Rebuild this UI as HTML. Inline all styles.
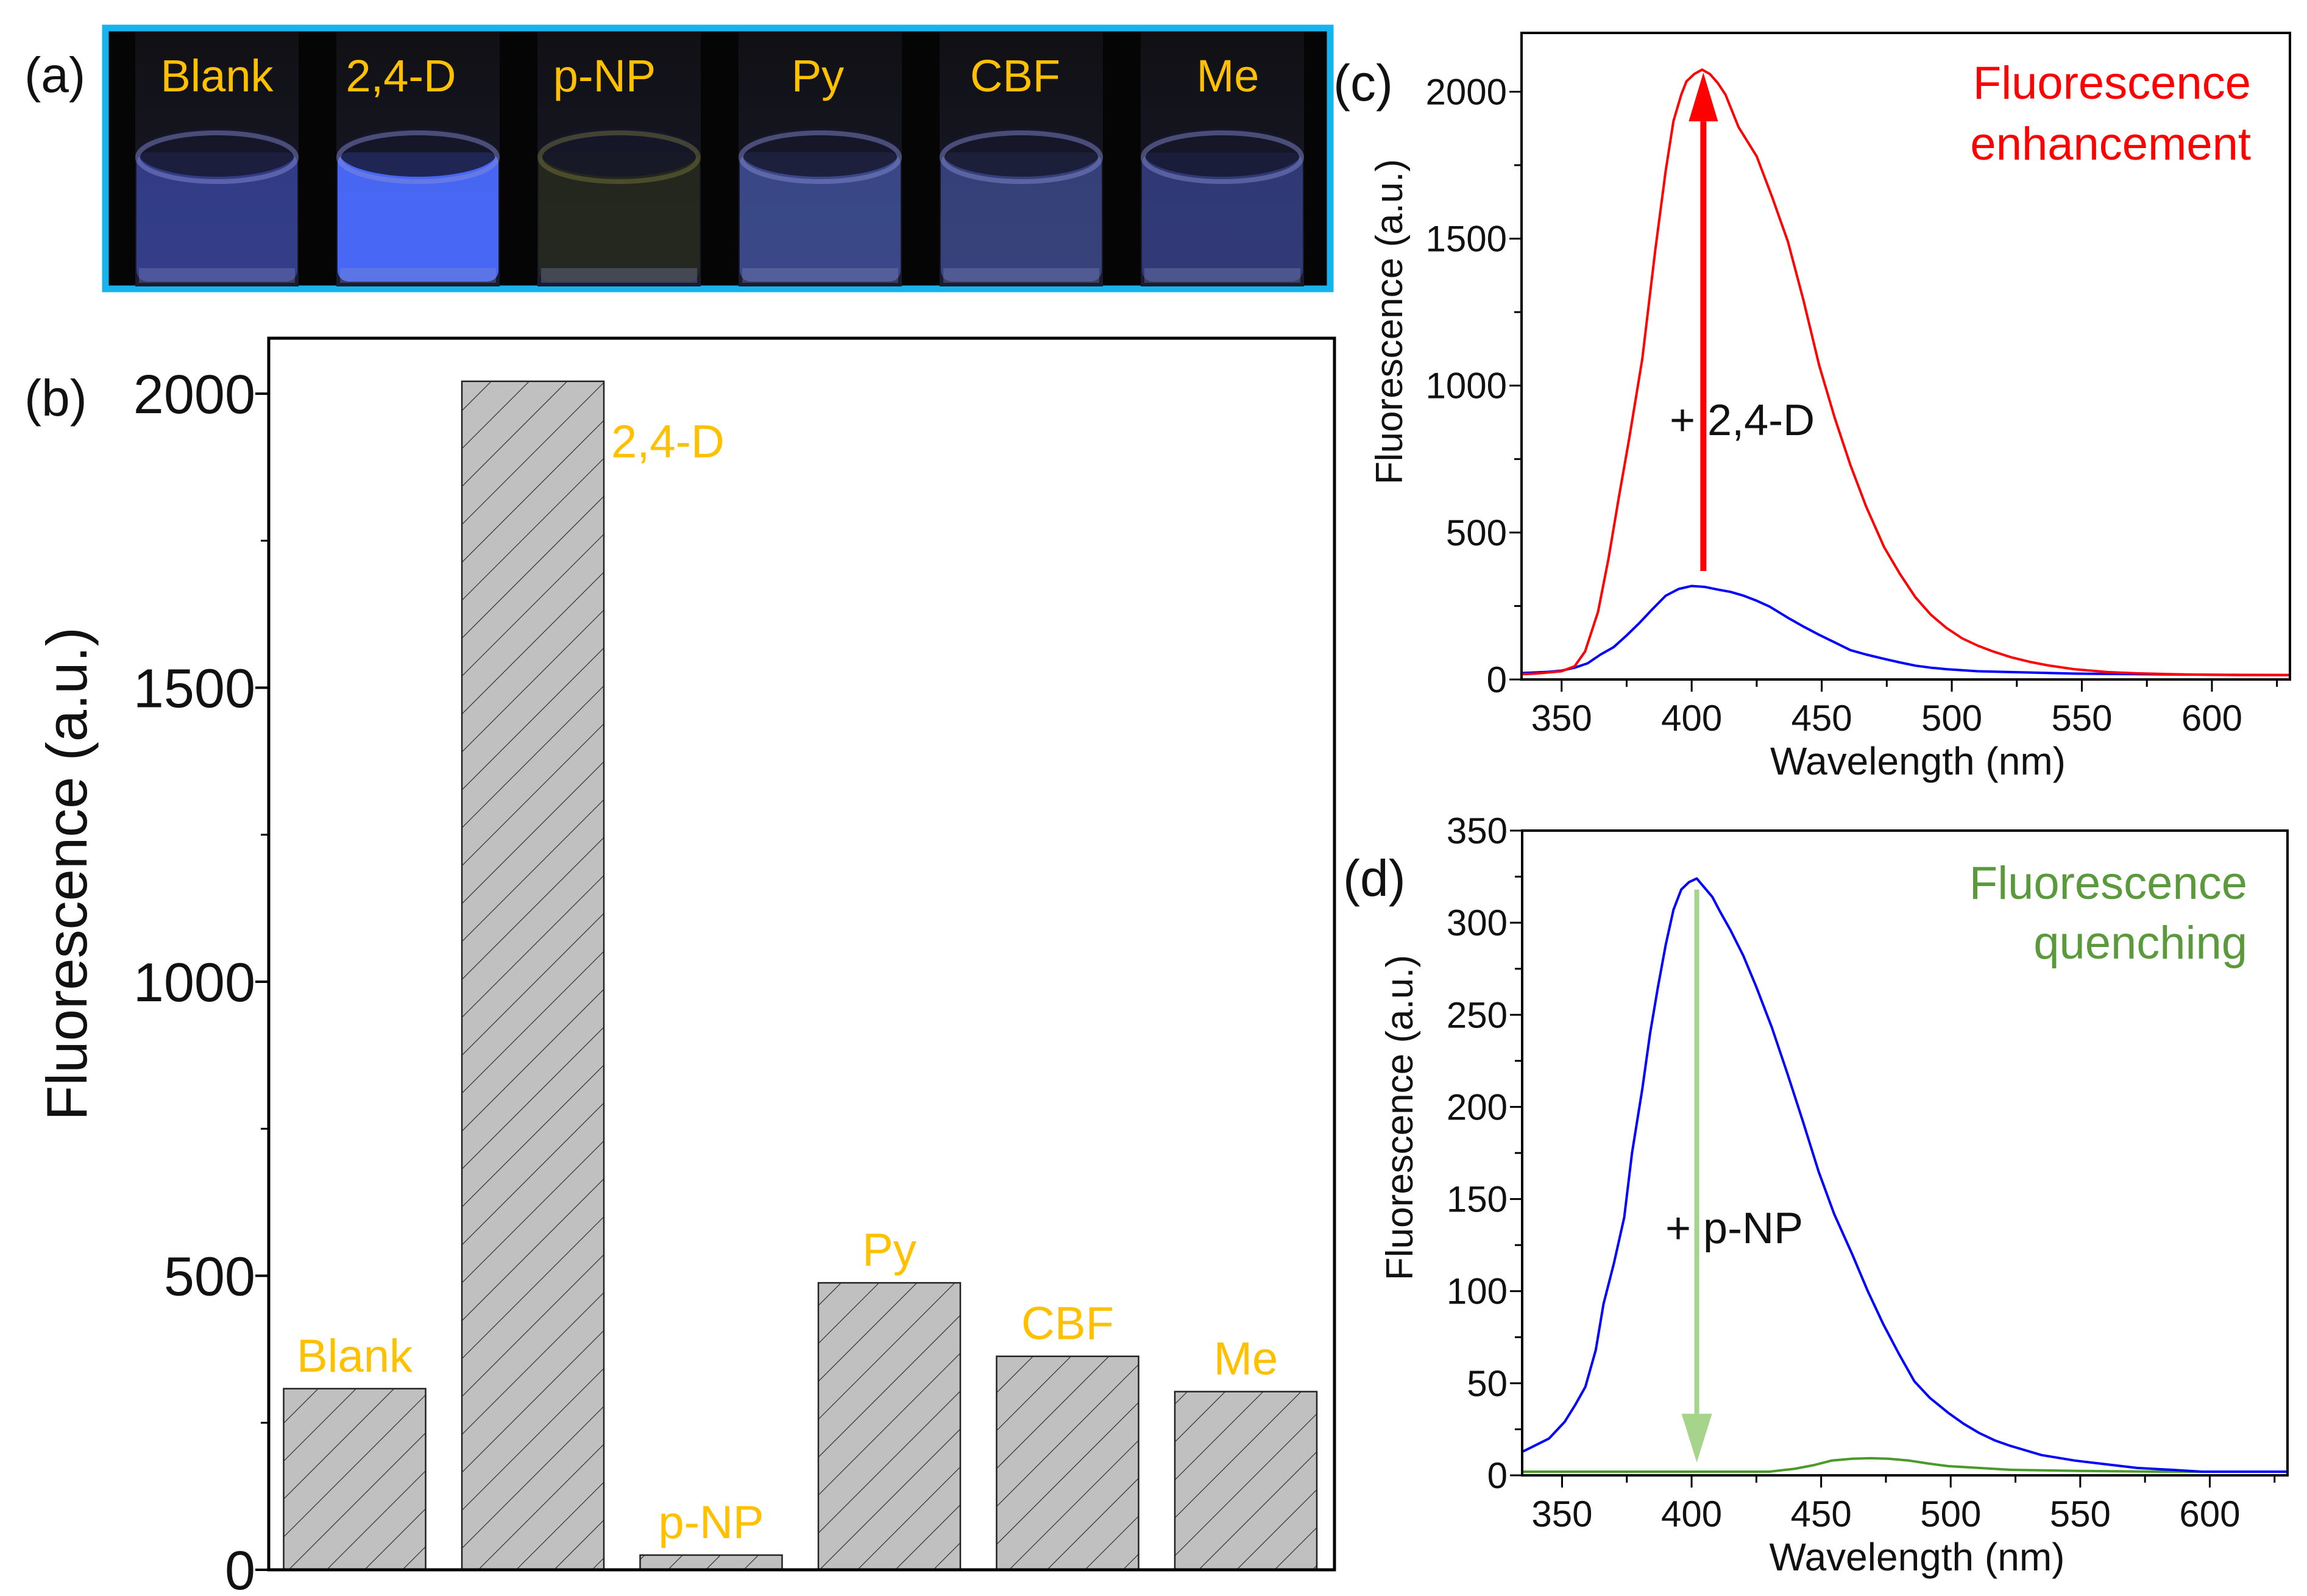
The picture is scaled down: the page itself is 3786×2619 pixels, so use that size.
<!DOCTYPE html>
<html><head><meta charset="utf-8">
<style>
html,body{margin:0;padding:0;background:#fff;}
svg{display:block;}
text{font-family:"Liberation Sans",Arial,sans-serif;}
</style></head>
<body>
<svg id="fig" width="3786" height="2619" viewBox="0 0 3786 2619" xmlns="http://www.w3.org/2000/svg">
<defs>
  <pattern id="hatch" patternUnits="userSpaceOnUse" width="44" height="44" patternTransform="rotate(45)">
    <rect width="44" height="44" fill="#c0c0c0"/>
    <line x1="0" y1="0" x2="0" y2="44" stroke="#222" stroke-width="2.2"/>
  </pattern>
  <linearGradient id="vialDark" x1="0" y1="0" x2="0" y2="1">
    <stop offset="0" stop-color="#101014"/><stop offset="1" stop-color="#1a1b2e"/>
  </linearGradient>
</defs>

<g id="panelA">
  <text x="40" y="151" font-size="82" fill="#111">(a)</text>
  <rect x="173" y="46" width="2010" height="428" fill="#050505" stroke="#17b3ec" stroke-width="11"/>
  <g id="vials"></g>
</g>

<g id="panelB"></g>
<g id="panelC"></g>
<g id="panelD"></g>
</svg>

<script>
// ---- Panel a vial data ----
const vialNames = ["Blank","2,4-D","p-NP","Py","CBF","Me"];
const vialColors = ["#3c4aa8","#4a6cff","#2a2d1c","#4658a8","#414f96","#3a4590"];

// ---- Panel b data ----
const barCats = ["Blank","2,4-D","p-NP","Py","CBF","Me"];
const barVals = [308, 2021, 25, 488, 363, 303];
const barYTicks = [0, 500, 1000, 1500, 2000];

// ---- Panel c data ----
const cRedX = [335,340,350,355,359,364,368,372,376,381,386,390,393,396,398,401,404,407,410,413,418,425,431,437,443,449,455,461,467,474,480,486,492,498,504,510,516,523,530,537,547,560,571,590,610,630];
const cRedY = [18,20,28,45,95,230,410,620,820,1090,1460,1730,1900,1990,2035,2060,2075,2060,2030,1990,1880,1780,1640,1490,1290,1070,890,730,590,450,360,280,220,175,140,115,95,75,60,48,35,25,21,17,15,15];
const cBlueX = [335,345,350,355,360,365,370,375,380,385,390,395,400,405,410,415,420,425,430,437,443,449,455,461,467,474,480,486,492,498,510,523,547,571,600,630];
const cBlueY = [22,26,30,40,55,85,110,150,193,240,285,308,318,315,306,298,285,268,248,210,180,152,126,100,85,70,58,47,40,35,28,25,20,18,16,15];
const cXTicks = [350,400,450,500,550,600];
const cYTicks = [0,500,1000,1500,2000];

// ---- Panel d data ----
const dBlueX = [335,345,351,355,359,363,366,370,374,377,381,384,387,390,393,396,399,402,405,408,411,415,420,425,431,437,443,449,455,462,468,474,480,486,492,499,505,511,517,523,535,548,560,572,585,597,610,630];
const dBlueY = [13,20,29,38,48,68,93,115,140,175,210,240,265,288,307,318,322,324,319,314,306,296,282,265,243,218,192,165,142,120,100,82,66,51,42,34,28,23,19,16,11,8,6,4,3,2,2,2];
const dGreenX = [335,360,400,430,440,447,454,462,469,476,484,491,499,511,523,550,580,630];
const dGreenY = [2,2,2,2,3.6,5.5,8,9,9.3,9,8,6.5,5,4,3,2.4,2,2];
const dXTicks = [350,400,450,500,550,600];
const dYTicks = [0,50,100,150,200,250,300,350];

const NS = "http://www.w3.org/2000/svg";
function mk(tag, attrs, parent){
  const e = document.createElementNS(NS, tag);
  for (const k in attrs) e.setAttribute(k, attrs[k]);
  parent.appendChild(e);
  return e;
}

// ===== Panel a =====
(function(){
  const g = document.getElementById('vials');
  const x0 = 222, step = 330, w = 268;
  vialNames.forEach((n,i)=>{
    const x = x0 + i*step;
    const v = mk('g', {}, g);
    
    
    mk('rect', {x:x, y:52, width:w, height:418, fill:'url(#vialDark)'}, v);
    const liq = mk('rect', {x:x+2, y:250, width:w-4, height:212, rx:18, fill:vialColors[i], opacity:i===1?0.95:0.75}, v);
    
    
    mk('ellipse', {cx:x+w/2, cy:250, rx:w/2-4, ry:40, fill:'#15172a', opacity:0.8}, v);
    mk('ellipse', {cx:x+w/2, cy:258, rx:w/2-4, ry:40, fill:'none', stroke:i===2?'#7a7a40':'#8a90d8', 'stroke-width':8, opacity:0.45}, v);
    mk('rect', {x:x+6, y:440, width:w-12, height:24, fill:'#8e95c8', opacity:0.3}, v);
    const t = mk('text', {x:x+w/2+(i===0?0:(i===1?-28:(i===2?-24:(i===3?-4:(i===4?-10:9))))), y:150, 'font-size':74, fill:'#ffc000', 'text-anchor':'middle'}, v);
    
    
    t.textContent = n;
  });
})();

// ===== Panel b =====
(function(){
  const g = document.getElementById('panelB');
  const L=441, R=2190, T=555, B=2576;
  const y = v => B - v*(B-646)/2000;
  const xc = i => 582 + i*292.5;
  const bw = 233;
  const lab = mk('text', {x:40, y:682, 'font-size':84, fill:'#111'}, g);
  
  
  lab.textContent = '(b)';
  barCats.forEach((c,i)=>{
    const r = mk('rect', {x:xc(i)-bw/2, y:y(barVals[i]), width:bw, height:B-y(barVals[i]), fill:'url(#hatch)', stroke:'#222', 'stroke-width':2.5}, g);
    
    
    let tx = xc(i), anchor='middle', ty = y(barVals[i]) - 28;
    if (i===1){ tx = xc(i)+bw/2+12; anchor='start'; ty = y(barVals[i]) + 125; }
    const t = mk('text', {x:tx, y:ty, 'font-size':76, fill:'#ffc000', 'text-anchor':anchor}, g);
    
    
    t.textContent = c;
  });
  const box = mk('rect', {x:L, y:T, width:R-L, height:B-T, fill:'none', stroke:'#000', 'stroke-width':5}, g);
  
  
  barYTicks.forEach(v=>{
    mk('line', {x1:L-22, x2:L, y1:y(v), y2:y(v), stroke:'#000', 'stroke-width':4}, g);
    const t = mk('text', {x:L-22, y:y(v)+32, 'font-size':90, fill:'#111', 'text-anchor':'end'}, g);
    
    
    t.textContent = v;
  });
  for (let v=250; v<2000; v+=500){
    mk('line', {x1:L-13, x2:L, y1:y(v), y2:y(v), stroke:'#000', 'stroke-width':3}, g);
  }
  const yl = mk('text', {x:0, y:0, 'font-size':94, fill:'#111', 'text-anchor':'middle', transform:'translate(142,1434) rotate(-90)'}, g);
  
  
  yl.textContent = 'Fluorescence (a.u.)';
})();

// ===== Spectrum panel builder =====
function spectrum(gid, o){
  const g = document.getElementById(gid);
  const xs = v => o.L + (v - o.xmin)*(o.R-o.L)/(o.xmax-o.xmin);
  const ys = v => o.B - v*(o.B-o.T)/o.ymax;
  o.series.forEach(s=>{
    const d = s.x.map((xv,i)=>(i?'L':'M')+xs(xv).toFixed(1)+','+ys(s.y[i]).toFixed(1)).join(' ');
    const p = mk('path', {d:d, fill:'none', stroke:s.color, 'stroke-width':4, 'stroke-linejoin':'round'}, g);
    
    
  });
  const box = mk('rect', {x:o.L, y:o.T, width:o.R-o.L, height:o.B-o.T, fill:'none', stroke:'#000', 'stroke-width':4}, g);
  
  
  o.xticks.forEach(v=>{
    mk('line', {x1:xs(v), x2:xs(v), y1:o.B, y2:o.B+20, stroke:'#000', 'stroke-width':3}, g);
    mk('line', {x1:xs(v+25), x2:xs(v+25), y1:o.B, y2:o.B+12, stroke:'#000', 'stroke-width':3}, g);
    const t = mk('text', {x:xs(v), y:o.B+84, 'font-size':60, fill:'#111', 'text-anchor':'middle'}, g);
    
    
    t.textContent = v;
  });
  const dy = o.yticks[1]-o.yticks[0];
  o.yticks.forEach(v=>{
    mk('line', {x1:o.L-20, x2:o.L, y1:ys(v), y2:ys(v), stroke:'#000', 'stroke-width':3}, g);
    if (v + dy/2 < o.ymax) mk('line', {x1:o.L-12, x2:o.L, y1:ys(v+dy/2), y2:ys(v+dy/2), stroke:'#000', 'stroke-width':3}, g);
    const t = mk('text', {x:o.L-24, y:ys(v)+21, 'font-size':60, fill:'#111', 'text-anchor':'end'}, g);
    
    
    t.textContent = v;
  });
  const xl = mk('text', {x:(o.L+o.R)/2+20, y:o.B+156, 'font-size':64, fill:'#111', 'text-anchor':'middle'}, g);
  
  
  xl.textContent = 'Wavelength (nm)';
  const yl = mk('text', {x:0, y:0, 'font-size':62, fill:'#111', 'text-anchor':'middle', transform:'translate('+o.ylx+','+o.yly+') rotate(-90)'}, g);
  
  
  yl.textContent = 'Fluorescence (a.u.)';
  const pl = mk('text', {x:o.plx, y:o.ply, 'font-size':84, fill:'#111'}, g);
  
  
  pl.textContent = o.panel;
  const ax = xs(o.arrow.x), a0 = ys(o.arrow.from), a1 = ys(o.arrow.to);
  const dir = a1 < a0 ? 1 : -1;
  const hb = a1 + dir*o.arrow.hh;
  const ag = mk('g', {}, g);
  
  
  mk('line', {x1:ax, x2:ax, y1:a0, y2:hb, stroke:o.arrow.color, 'stroke-width':o.arrow.sw}, ag);
  mk('polygon', {points:(ax-o.arrow.hw/2)+','+hb+' '+(ax+o.arrow.hw/2)+','+hb+' '+ax+','+a1, fill:o.arrow.color}, ag);
  const at = mk('text', {x:o.atx, y:o.aty, 'font-size':72, fill:'#111'}, g);
  
  
  at.textContent = o.atext;
  o.title.forEach((line,i)=>{
    const t = mk('text', {x:o.tx, y:o.ty[i], 'font-size':76, fill:o.tcolor, 'text-anchor':'end'}, g);
    
    
    t.textContent = line;
  });
}

spectrum('panelC', {
  L:2497, R:3758, T:54, B:1115, xmin:334.6, xmax:630, ymax:2200,
  series:[{name:'blank-spectrum-line', x:cBlueX, y:cBlueY, color:'#0000ff'},
          {name:'with-24d-spectrum-line', x:cRedX, y:cRedY, color:'#ff0000'}],
  xticks:cXTicks, yticks:cYTicks, ylx:2301, yly:528, plx:2188, ply:165, panel:'(c)',
  arrow:{x:404.5, from:369, to:2065, hh:80, hw:48, sw:10, color:'#ff0000'},
  atx:2740, aty:714, atext:'+ 2,4-D',
  title:['Fluorescence','enhancement'], tx:3694, ty:[162,262], tcolor:'#ff0000'
});
spectrum('panelD', {
  L:2498, R:3754, T:1363, B:2421, xmin:334.6, xmax:630, ymax:350,
  series:[{name:'with-pnp-spectrum-line', x:dGreenX, y:dGreenY, color:'#4a9a2a'},
          {name:'blank-spectrum-line', x:dBlueX, y:dBlueY, color:'#0000ff'}],
  xticks:dXTicks, yticks:dYTicks, ylx:2318, yly:1834, plx:2204, ply:1470, panel:'(d)',
  arrow:{x:402, from:318, to:7, hh:80, hw:50, sw:8, color:'#a6d48c'},
  atx:2733, aty:2040, atext:'+ p-NP',
  title:['Fluorescence','quenching'], tx:3688, ty:[1475,1573], tcolor:'#5b9a3c'
});
</script>
</body></html>
